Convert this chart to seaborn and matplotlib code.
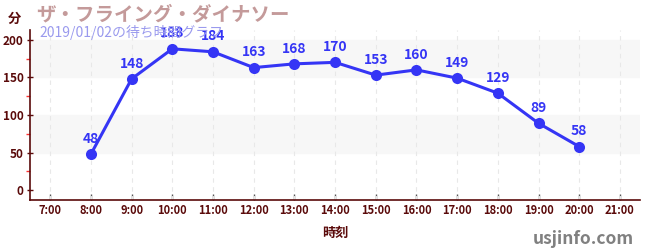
import matplotlib
matplotlib.use("Agg")
import matplotlib.pyplot as plt
import seaborn as sns
import pandas as pd
from matplotlib.ticker import MultipleLocator

hours = [8, 9, 10, 11, 12, 13, 14, 15, 16, 17, 18, 19, 20]
waits = [48, 148, 188, 184, 163, 168, 170, 153, 160, 149, 129, 89, 58]
tick_hours = list(range(7, 22))
tick_labels = [f"{h}:00" for h in tick_hours]

sns.set_style("white")
plt.rcParams['font.family'] = ['Noto Sans CJK JP', 'DejaVu Sans']

df = pd.DataFrame({"hour": hours, "wait": waits})

fig = plt.figure(figsize=(6.5, 2.5), dpi=100)
ax = fig.add_axes([0.046, 0.2, 0.939, 0.68])

dark = "#5a0a0a"
line_c = "#3535f5"

# bands
ax.axhspan(150, 200, color="#f7f7f7", zorder=0)
ax.axhspan(50, 100, color="#f7f7f7", zorder=0)

sns.lineplot(data=df, x="hour", y="wait", ax=ax, color=line_c, linewidth=2.2,
             marker="o", markersize=8, markeredgewidth=0, zorder=3)

for h, w in zip(hours, waits):
    ax.annotate(str(w), (h, w), xytext=(0, 6), textcoords="offset points",
                ha="center", va="bottom", color=line_c, fontsize=10,
                fontweight="bold", zorder=4)

ax.set_xlim(6.5, 21.5)
ax.set_ylim(-13, 213)
ax.set_xticks(tick_hours)
ax.set_xticklabels(tick_labels)
ax.set_yticks([0, 50, 100, 150, 200])
ax.yaxis.set_minor_locator(MultipleLocator(25))
for x in tick_hours:
    ax.axvline(x, color="#e8e8e8", linestyle=(0, (4, 4)), linewidth=0.8, zorder=1)

ax.tick_params(axis="x", bottom=True, direction="in", colors="#555555", labelcolor=dark,
               labelsize=8, length=4, width=1, pad=3)
ax.tick_params(axis="y", which="major", left=True, direction="inout", colors=dark, labelcolor=dark,
               labelsize=8.5, length=5, width=1, pad=2)
ax.tick_params(axis="y", which="minor", left=True, colors="#ff3030", length=3, width=1)
for t in ax.xaxis.get_ticklabels():
    t.set_fontweight("bold")
for t in ax.yaxis.get_ticklabels():
    t.set_fontweight("bold")
for i, tl in enumerate(ax.yaxis.get_major_ticks()):
    if i in (1, 3):
        tl.tick1line.set_color("#888888")

for s in ["top", "right"]:
    ax.spines[s].set_visible(False)
ax.spines["left"].set_color(dark)
ax.spines["bottom"].set_color(dark)
ax.spines["left"].set_linewidth(1.2)
ax.spines["bottom"].set_linewidth(1.2)

ax.set_xlabel("時刻", color=dark, fontsize=9.5, fontweight="bold", labelpad=6)
ax.set_ylabel("")

fig.text(0.023, 0.925, "分", color=dark, fontsize=9.5, fontweight="bold", ha="center", va="center")
fig.text(0.055, 0.94, "ザ・フライング・ダイナソー", color="#c49a9a", fontsize=14, fontweight="bold",
         ha="left", va="center")
fig.text(0.06, 0.87, "2019/01/02の待ち時間グラフ", color="#9a9aee", fontsize=10,
         ha="left", va="center")
fig.text(0.975, 0.045, "usjinfo.com", color="#808080", fontsize=12.5, fontweight="bold",
         ha="right", va="center")

fig.savefig("out.png", dpi=100)
